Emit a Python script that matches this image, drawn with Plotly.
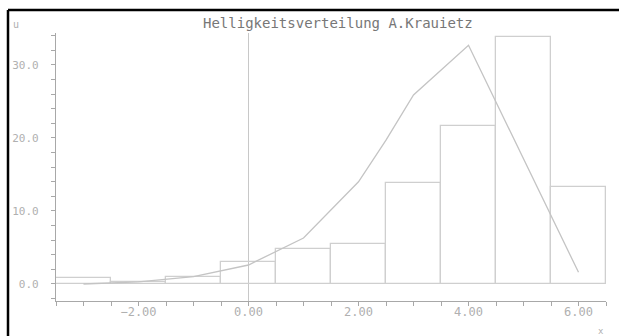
import plotly.graph_objects as go

# Histogram classes (bin centres, width 1) and counts
bin_centers = [-3, -2, -1, 0, 1, 2, 3, 4, 5, 6]
bin_counts = [0.8, 0.3, 0.9, 3.0, 4.8, 5.5, 13.9, 21.6, 33.9, 13.3]

# Comparison curve
curve_x = [-3, -2, -1, 0, 1, 2, 2.5, 3, 4, 5, 6]
curve_y = [0.0, 0.3, 1.0, 2.6, 6.3, 14.0, 19.7, 25.9, 32.7, 17.2, 1.6]

title_text = "Helligkeitsverteilung A.Krauietz"
x_label = "x"
y_label = "u"

mono = "DejaVu Sans Mono"
edge = "#cfcfcf"
axis_col = "#a8a8a8"
label_col = "#b0b0b0"

fig = go.Figure()

fig.add_trace(go.Bar(
    x=bin_centers, y=bin_counts, width=1,
    marker=dict(color="rgba(255,255,255,0)", line=dict(color=edge, width=1.3)),
    showlegend=False, hoverinfo="skip",
))

fig.add_trace(go.Scatter(
    x=curve_x, y=curve_y, mode="lines",
    line=dict(color="#c4c4c4", width=1.3),
    showlegend=False, hoverinfo="skip",
))

fig.update_layout(
    width=620, height=336,
    margin=dict(l=56, r=14, t=33, b=35, autoexpand=False),
    paper_bgcolor="white", plot_bgcolor="white",
    bargap=0,
    font=dict(family=mono, size=12, color=label_col),
    xaxis=dict(
        range=[-3.5, 6.5], showgrid=False, automargin=False,
        zeroline=True, zerolinecolor="#c8c8c8", zerolinewidth=1.3,
        showline=True, linecolor=axis_col, linewidth=1.3,
        ticks="outside", ticklen=4, tickcolor=axis_col, tickwidth=1.3,
        tick0=0, dtick=2, tickformat=".2f",
        minor=dict(dtick=0.5, tick0=0, ticks="outside", ticklen=4,
                   tickcolor=axis_col, tickwidth=1.3, showgrid=False),
        ticklabelstandoff=-5,
        tickfont=dict(family=mono, size=12, color=label_col),
        fixedrange=True,
    ),
    yaxis=dict(
        range=[-2.33, 34.38], showgrid=False, automargin=False,
        zeroline=True, zerolinecolor="#c8c8c8", zerolinewidth=1.3,
        showline=True, linecolor=axis_col, linewidth=1.3,
        ticks="outside", ticklen=4, tickcolor=axis_col, tickwidth=1.3,
        tick0=0, dtick=10, tickformat=".1f",
        minor=dict(dtick=2, tick0=0, ticks="outside", ticklen=4,
                   tickcolor=axis_col, tickwidth=1.3, showgrid=False),
        ticklabelstandoff=10,
        tickfont=dict(family=mono, size=11, color=label_col),
        fixedrange=True,
    ),
)

# Title and axis letters
fig.add_annotation(text=title_text, xref="paper", yref="paper",
                   x=0.512, y=1.0 + (33 - 23) / 268, showarrow=False,
                   font=dict(family=mono, size=14, color="#777777"),
                   xanchor="center", yanchor="middle")
fig.add_annotation(text=y_label, xref="paper", yref="paper",
                   x=(16 - 56) / 550, y=1.0 + (33 - 25) / 268, showarrow=False,
                   font=dict(family=mono, size=10, color=label_col),
                   xanchor="center", yanchor="middle")
fig.add_annotation(text=x_label, xref="paper", yref="paper",
                   x=(601 - 56) / 550, y=-(331 - 301) / 268, showarrow=False,
                   font=dict(family=mono, size=9, color=label_col),
                   xanchor="center", yanchor="middle")

# Black frame along the top and left edge
fx0 = (8 - 56) / 550
fx1 = (619 - 56) / 550
fy_top = 1.0 + (33 - 10) / 268
fy_bot = -(338 - 301) / 268
fig.add_shape(type="line", xref="paper", yref="paper",
              x0=fx0, x1=fx1, y0=fy_top, y1=fy_top,
              line=dict(color="black", width=2.5))
fig.add_shape(type="line", xref="paper", yref="paper",
              x0=fx0, x1=fx0, y0=fy_top, y1=fy_bot,
              line=dict(color="black", width=2.5))

fig.write_html("out.html", config={"displayModeBar": False})
